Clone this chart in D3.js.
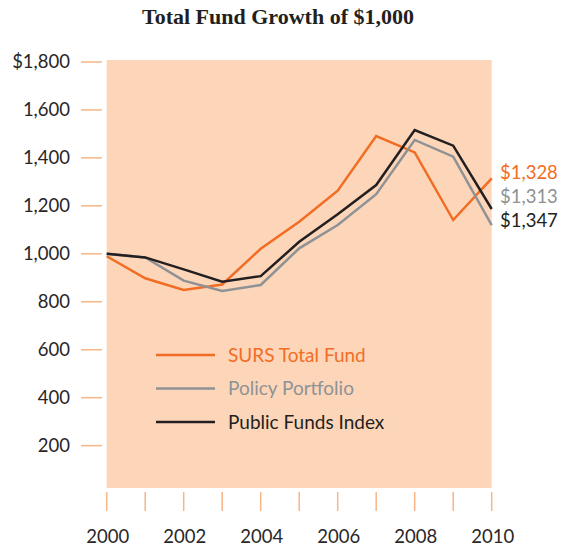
<!DOCTYPE html>
<html>
<head>
<meta charset="utf-8">
<script src="https://cdn.jsdelivr.net/npm/d3@7"></script>
<style>
  body { margin: 0; background: #fff; }
  svg { display: block; }
</style>
</head>
<body>
<div id="chart"></div>
<script>
// data
const years = [2000, 2001, 2002, 2003, 2004, 2005, 2006, 2007, 2008, 2009, 2010];
const surs = [990, 898, 849, 872, 1021, 1134, 1263, 1491, 1423, 1141, 1315];
const policy = [1000, 985, 888, 845, 870, 1023, 1120, 1249, 1475, 1405, 1120];
const publicFunds = [1000, 985, 935, 884, 907, 1050, 1165, 1287, 1516, 1451, 1187];
const yTicks = [200, 400, 600, 800, 1000, 1200, 1400, 1600, 1800];
const xLabels = [2000, 2002, 2004, 2006, 2008, 2010];
const endLabels = ['$1,328', '$1,313', '$1,347'];
const seriesNames = ['SURS Total Fund', 'Policy Portfolio', 'Public Funds Index'];

const colors = ['#f26d24', '#8f9295', '#231f20'];

const width = 561;
const height = 547;
const font = 'Lato, Roboto, sans-serif';

const svg = d3.select('#chart')
  .append('svg')
  .attr('width', width)
  .attr('height', height);

const x = d3.scaleLinear().domain([2000, 2010]).range([106.7, 491.7]);
const y = d3.scaleLinear().domain([0, 1800]).range([493.6, 62]);

// title
svg.append('text')
  .attr('x', 278)
  .attr('y', 24)
  .attr('text-anchor', 'middle')
  .attr('font-family', '"Liberation Serif", serif')
  .attr('font-weight', 'bold')
  .attr('font-size', 22)
  .attr('fill', '#231f20')
  .text('Total Fund Growth of $1,000');

// peach plot background
svg.append('rect')
  .attr('x', x(2000))
  .attr('y', 60)
  .attr('width', x(2010) - x(2000))
  .attr('height', 428)
  .attr('fill', '#fdd6b9');

// y axis ticks (dashes left of the panel)
const yAxis = svg.append('g');
yAxis.selectAll('line')
  .data(yTicks)
  .join('line')
  .attr('x1', 81)
  .attr('x2', 102)
  .attr('y1', (d) => y(d))
  .attr('y2', (d) => y(d))
  .attr('stroke', '#f8b588')
  .attr('stroke-width', 1.5);

yAxis.selectAll('text')
  .data(yTicks)
  .join('text')
  .attr('x', 70)
  .attr('y', (d) => y(d))
  .attr('dy', '0.35em')
  .attr('text-anchor', 'end')
  .attr('font-family', font)
  .attr('font-size', 18.5)
  .attr('fill', '#2a2627')
  .text((d) => (d === 1800 ? '$' : '') + d3.format(',')(d));

// x axis ticks
const xAxis = svg.append('g');
xAxis.selectAll('line')
  .data(years)
  .join('line')
  .attr('x1', (d) => x(d))
  .attr('x2', (d) => x(d))
  .attr('y1', 492)
  .attr('y2', 511)
  .attr('stroke', '#f8b588')
  .attr('stroke-width', 1.5);

xAxis.selectAll('text')
  .data(xLabels)
  .join('text')
  .attr('x', (d) => x(d) + 1)
  .attr('y', 543)
  .attr('text-anchor', 'middle')
  .attr('font-family', font)
  .attr('font-size', 18.5)
  .attr('fill', '#2a2627')
  .text((d) => d);

// lines
const series = [surs, policy, publicFunds];
const line = d3.line()
  .x((d, i) => x(years[i]))
  .y((d) => y(d));

svg.append('g')
  .selectAll('path')
  .data(series)
  .join('path')
  .attr('d', line)
  .attr('fill', 'none')
  .attr('stroke', (d, i) => colors[i])
  .attr('stroke-width', 2.5)
  .attr('stroke-linejoin', 'miter');

// end values
svg.append('g')
  .selectAll('text')
  .data(endLabels)
  .join('text')
  .attr('x', 500)
  .attr('y', (d, i) => 179 + i * 24)
  .attr('font-family', font)
  .attr('font-size', 18.5)
  .attr('fill', (d, i) => colors[i])
  .text((d) => d);

// legend
const legend = svg.append('g');
legend.selectAll('line')
  .data(seriesNames)
  .join('line')
  .attr('x1', 156)
  .attr('x2', 215)
  .attr('y1', (d, i) => 355 + i * 33.5)
  .attr('y2', (d, i) => 355 + i * 33.5)
  .attr('stroke', (d, i) => colors[i])
  .attr('stroke-width', 2.5);

legend.selectAll('text')
  .data(seriesNames)
  .join('text')
  .attr('x', 228)
  .attr('y', (d, i) => 355 + i * 33.5)
  .attr('dy', '0.35em')
  .attr('font-family', font)
  .attr('font-size', 19)
  .attr('fill', (d, i) => colors[i])
  .text((d) => d);
</script>
</body>
</html>
